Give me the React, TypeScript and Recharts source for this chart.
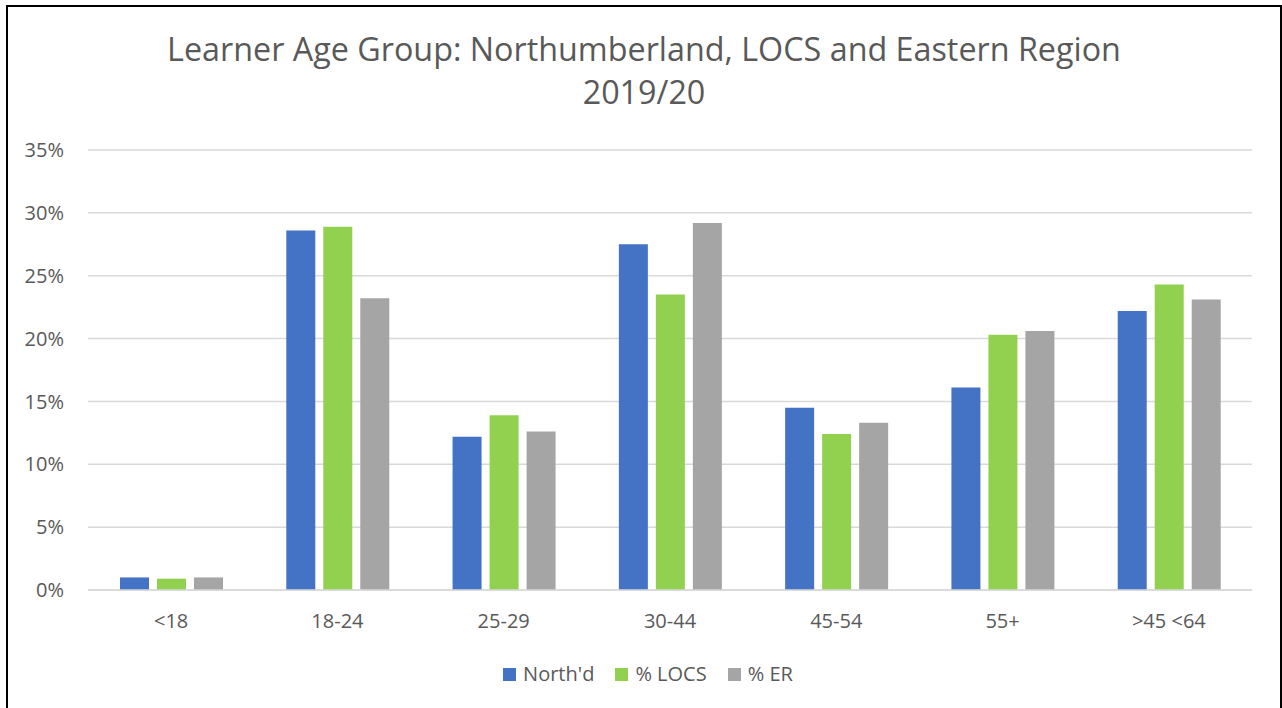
import React from 'react';
import { BarChart, Bar, XAxis, YAxis, CartesianGrid } from 'recharts';

const categories = ['<18', '18-24', '25-29', '30-44', '45-54', '55+', '>45 <64'];
const northd = [1.0, 28.6, 12.2, 27.5, 14.5, 16.1, 22.2];
const locs = [0.9, 28.9, 13.9, 23.5, 12.4, 20.3, 24.3];
const er = [1.0, 23.2, 12.6, 29.2, 13.3, 20.6, 23.1];
const yTicks = [0, 5, 10, 15, 20, 25, 30, 35];
const seriesKeys = ['northd', 'locs', 'er'];
const seriesNames = ["North'd", '% LOCS', '% ER'];
const seriesColors = ['#4472C4', '#92D050', '#A5A5A5'];
const titleLines = ['Learner Age Group: Northumberland, LOCS and Eastern Region', '2019/20'];

const data = categories.map((c, i) => ({ name: c, northd: northd[i], locs: locs[i], er: er[i] }));

const FONT = '"Open Sans", "Noto Sans", sans-serif';
const TEXT = '#595959';

export default function App() {
  return (
    <div style={{ position: 'fixed', left: 0, top: 0, width: 1282, height: 708, overflow: 'hidden', background: '#fff', fontFamily: FONT }}>
      <div style={{ position: 'absolute', left: 6, top: 5, width: 1276, height: 720, border: '2px solid #000', boxSizing: 'border-box' }} />
      <div style={{ position: 'absolute', left: 0, top: 0 }}>
        <BarChart
          width={1282}
          height={708}
          data={data}
          margin={{ top: 150, right: 30, bottom: 88, left: 8 }}
          barSize={29}
          barGap={8}
          style={{ fontFamily: FONT }}
        >
          <CartesianGrid vertical={false} stroke="#D9D9D9" strokeWidth={1.5} />
          <XAxis
            dataKey="name"
            interval={0}
            tickLine={false}
            axisLine={{ stroke: '#D9D9D9', strokeWidth: 1.5 }}
            tickMargin={18}
            tick={{ fill: TEXT, fontSize: 20, fontFamily: FONT }}
          />
          <YAxis
            width={80}
            domain={[0, 35]}
            ticks={yTicks}
            tickFormatter={(v: number) => `${v}%`}
            tickLine={false}
            axisLine={false}
            tickMargin={18}
            tick={{ fill: TEXT, fontSize: 20, fontFamily: FONT }}
          />
          {seriesKeys.map((k, i) => (
            <Bar key={k} dataKey={k} name={seriesNames[i]} fill={seriesColors[i]} isAnimationActive={false} />
          ))}
        </BarChart>
      </div>
      <div style={{ position: 'absolute', left: 6, top: 27, width: 1276, textAlign: 'center', fontSize: 32.3, lineHeight: '43px', color: TEXT, fontFamily: FONT }}>
        {titleLines.map((t) => (
          <div key={t}>{t}</div>
        ))}
      </div>
      <div style={{ position: 'absolute', left: 0, top: 661, width: 1296, height: 26, display: 'flex', justifyContent: 'center', alignItems: 'center', fontSize: 20, lineHeight: '26px', color: TEXT, fontFamily: FONT }}>
        {seriesNames.map((n, i) => (
          <div key={n} style={{ display: 'flex', alignItems: 'center', marginLeft: i === 0 ? 0 : 21 }}>
            <div style={{ width: 13, height: 13, background: seriesColors[i], marginRight: 7 }} />
            <span>{n}</span>
          </div>
        ))}
      </div>
    </div>
  );
}
